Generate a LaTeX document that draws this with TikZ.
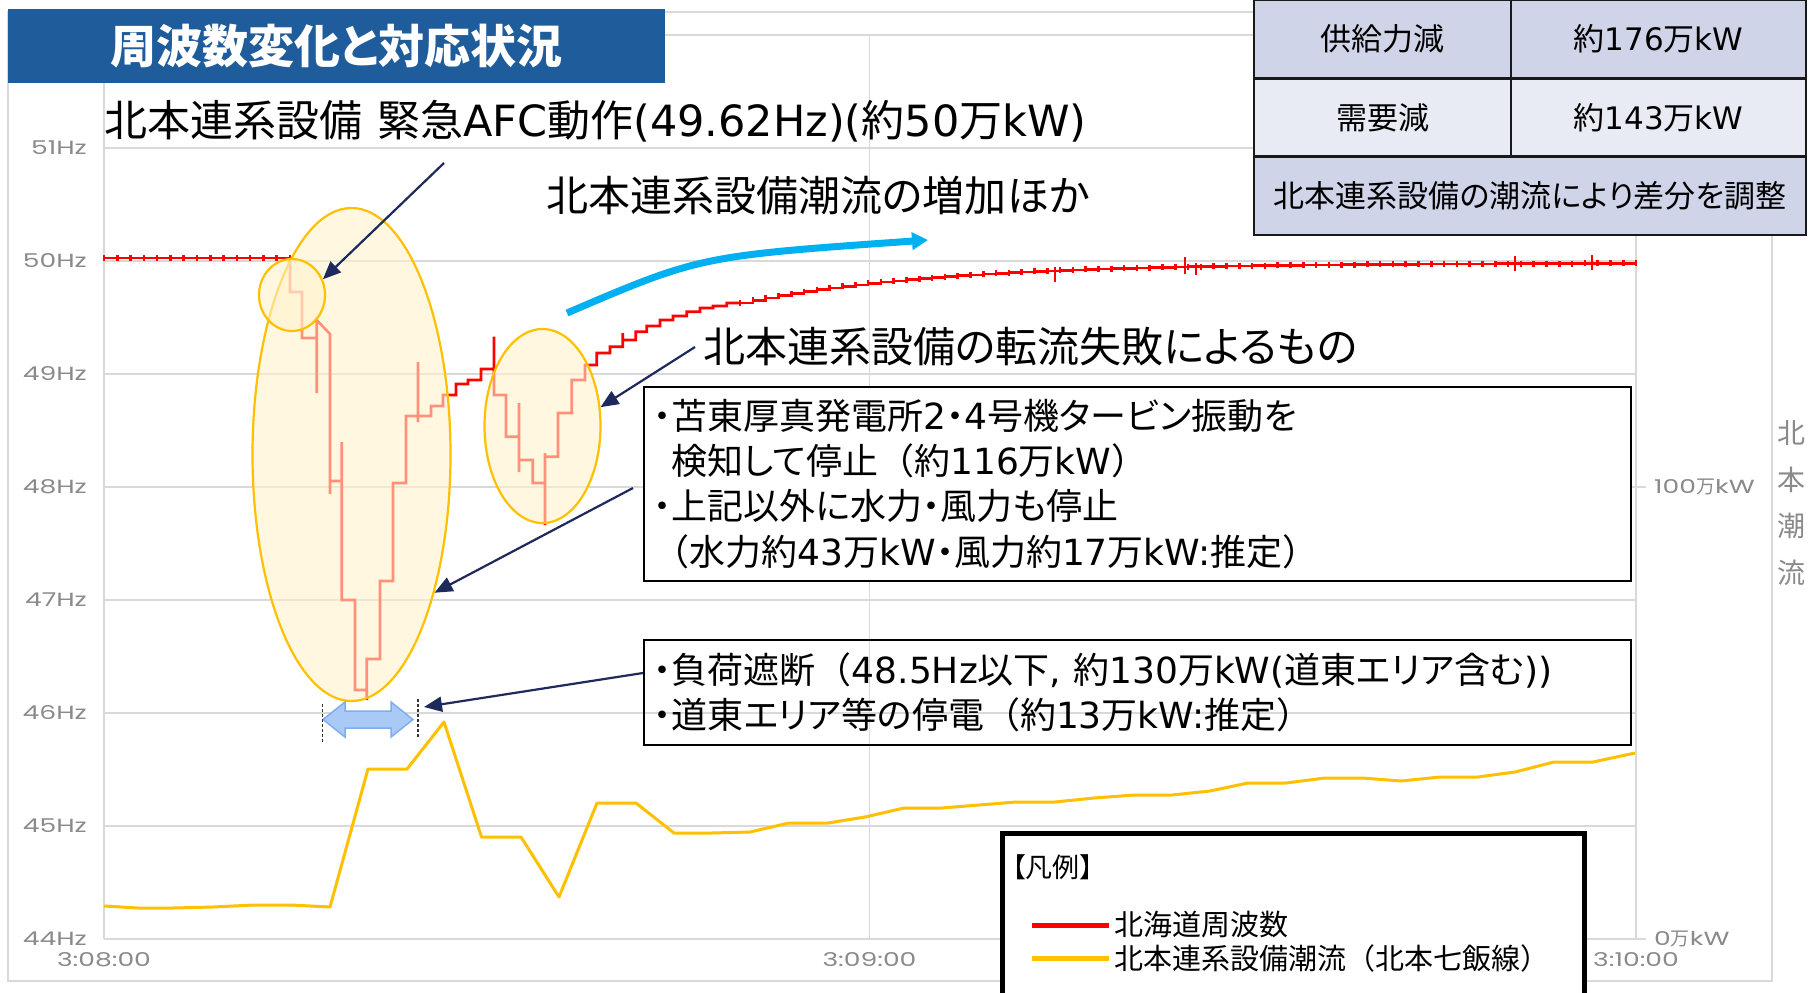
\documentclass[tikz,border=0pt]{standalone}
\usepackage{fontspec}
\setmainfont{Noto Sans CJK JP}[CharacterWidth=AlternateProportional]
\newfontfamily\fullw{Noto Sans CJK JP}
\newfontfamily\latin{DejaVu Sans}
\newfontfamily\axisfont{Poppins}[FakeStretch=1.4]
\usetikzlibrary{arrows.meta, positioning, shapes.geometric, plotmarks}
\definecolor{titleblue}{HTML}{1F5C9C}
\definecolor{gridgray}{HTML}{D9D9D9}
\definecolor{axisgray}{HTML}{8A8A8A}
\definecolor{freqred}{HTML}{FF0000}
\definecolor{flowyel}{HTML}{FFC000}
\definecolor{hilitefill}{HTML}{FFF2CC}
\definecolor{navy}{HTML}{1F2A5C}
\definecolor{risecyan}{HTML}{00B0F0}
\definecolor{tabdark}{HTML}{CFD4E8}
\definecolor{tablight}{HTML}{E8EAF4}
\definecolor{spanfill}{HTML}{A9C9F7}
\definecolor{spanedge}{HTML}{7FAEF0}
\newcommand*{\fsz}[2]{\fontsize{#1}{#2}\selectfont}
\newcommand*{\lat}[1]{{\latin#1}}
\newcommand*{\lp}{{\fullw （}}
\newcommand*{\rp}{{\fullw ）}}

\begin{document}
\begin{tikzpicture}[
      x=1pt, y=-1pt,
      grid/.style={draw=gridgray, line width=1.3pt},
      axislab/.style={text=axisgray, inner sep=0pt, font=\axisfont\fsz{19}{19}},
      freq/.style={draw=freqred, line width=2.6pt},
      flow/.style={draw=flowyel, line width=3pt, line join=round},
      hilite/.style={ellipse, draw=flowyel, line width=2.2pt, fill=hilitefill,
                     fill opacity=0.6, draw opacity=1, inner sep=0pt},
      callout/.style={draw=navy, line width=2.2pt, -{Triangle[length=18pt,width=15pt]}},
      note/.style={anchor=west, inner sep=0pt, font=\fsz{42}{42}},
      notebox/.style={draw=black, line width=1.6pt, anchor=north west, inner xsep=10pt,
                      text width=967pt, align=left, font=\fsz{36}{45.3}},
      cell/.style={draw=black!90, line width=2.6pt, inner sep=0pt, outer sep=0pt,
                   minimum height=78.3pt, font=\fsz{31}{31}}
      ]

      \useasboundingbox (0,0) rectangle (1808,993);
      \clip (0,0) rectangle (1808,993);
      \fill[white] (0,0) rectangle (1808,993);

      % chart area
      \draw[draw=gridgray, line width=1.5pt] (8,12) rectangle (1772,981);
      \foreach \f in {44,...,52}
        \draw[grid] (104,{939-(\f-44)*113}) -- (1636,{939-(\f-44)*113});
      \foreach \x in {104,869.5,1636}
        \draw[grid] (\x,35) -- (\x,939);
      \draw[grid] (1636,487) -- (1646,487);
      \draw[grid] (1636,939) -- (1646,939);
      \foreach \f in {44,...,51}
        \node[axislab, anchor=east] at (87,{939-(\f-44)*113}) {\f Hz};
      \node[axislab] (t0) at (104,960) {3:08:00};
      \node[axislab] (t1) at (869.5,960) {3:09:00};
      \node[axislab] (t2) at (1636,960) {3:10:00};
      \node[axislab, anchor=west] (p100) at (1654,487) {100{\rmfamily 万}kW};
      \node[axislab, anchor=west] (p0) at (1654,939) {0{\rmfamily 万}kW};
      \foreach \c [count=\i] in {北,本,潮,流}
        \node[anchor=west, inner sep=0pt, text=axisgray, font=\fsz{28}{28}]
          at (1777,{433+46.5*(\i-1)}) {\c};

      % flow
      \draw[flow] (104,906) -- (138,908) -- (173,908) -- (213,907) -- (254,905) -- (291,905)
        -- (330,907) -- (368,769) -- (407,769) -- (444,722) -- (481.5,837) -- (521,837)
        -- (559,897) -- (597,803) -- (636,803) -- (674,833) -- (712,833) -- (750,832)
        -- (789,823) -- (828,823) -- (865,817) -- (904,808) -- (941.5,808) -- (979,805)
        -- (1016,802) -- (1055,802) -- (1094,798) -- (1135,795) -- (1172,795) -- (1210,791)
        -- (1248,783) -- (1286,783) -- (1325,778) -- (1362,778) -- (1401,781) -- (1440,777)
        -- (1478,777) -- (1515,772) -- (1554,762) -- (1593,762) -- (1635,753);

      % frequency
      \draw[freq] plot[const plot, mark=|, mark size=3pt, domain=104:290, samples=15] (\x,258);
      \draw[freq] (290,258) -- (290,292) -- (302,292) -- (302,338) -- (316.7,338) -- (316.7,393)
        -- (316.7,320) -- (330,334) -- (330,494) -- (330,481) -- (341.7,481) -- (341.7,442)
        -- (341.7,600) -- (355,600) -- (355,690) -- (366.7,690) -- (366.7,700) -- (366.7,659)
        -- (380,659) -- (380,581) -- (393,581) -- (393,483) -- (406,483) -- (406,416)
        -- (418,416) -- (418,422) -- (418,362) -- (418,416) -- (431,416) -- (431,406)
        -- (443,406) -- (443,395) -- (456,395) -- (456,384) -- (468,384) -- (468,380)
        -- (481,380) -- (481,369) -- (494,369) -- (494,336.7) -- (494,395) -- (506,395)
        -- (506,436.7) -- (519,436.7) -- (519,403) -- (519,472) -- (519,460) -- (532.7,460)
        -- (532.7,483) -- (545,483) -- (545,525) -- (545,453) -- (545,456.7) -- (558,456.7)
        -- (558,413) -- (571.7,413) -- (571.7,380) -- (585,380) -- (585,365) -- (596.7,365)
        -- (596.7,353) -- (610,353) -- (610,346.7) -- (622.7,346.7) -- (622.7,333)
        -- (622.7,340) -- (635.7,340) -- (635.7,331.7) -- (646.7,331.7) -- (646.7,326)
        -- (660,326) -- (660,320) -- (673,320) -- (673,316) -- (686.7,316) -- (686.7,311.7)
        -- (700,311.7) -- (700,308) -- (713,308) -- (713,306) -- (726.7,306) -- (726.7,303)
        -- (740,303);
      \draw[freq] plot[const plot, mark=|, mark size=3pt, domain=740:1636, samples=71]
        (\x,{263+40*exp(-(\x-740)/190)});
      \draw[freq] (1055,267) -- (1055,282);
      \draw[freq] (1185,257) -- (1185,274);
      \draw[freq] (1196,263) -- (1196,275);
      \draw[freq] (1515,256) -- (1515,271);
      \draw[freq] (1592,255) -- (1592,270);

      % highlights
      \node[hilite, minimum width=198pt, minimum height=493pt] (drop) at (351.5,454.5) {};
      \node[hilite, minimum width=66pt, minimum height=72pt] (afc) at (292,295) {};
      \node[hilite, minimum width=116pt, minimum height=194pt] (fail) at (542.5,426) {};

      % load shedding span
      \draw[draw=spanedge, fill=spanfill, line width=1.5pt] (323,719.5) -- (345,702) -- (345,711)
        -- (391,711) -- (391,702) -- (413,719.5) -- (391,737) -- (391,728) -- (345,728)
        -- (345,737) -- cycle;
      \draw[black!80, line width=1.2pt, dash pattern=on 3pt off 2pt] (322.7,704) -- (322.7,742);
      \draw[black!80, line width=1.2pt, dash pattern=on 3pt off 2pt] (418,699) -- (418,737);

      % notes
      \node[note, font=\fsz{43}{43}] (afcnote) at (104,121)
        {北本連系設備\hspace{0.35em}緊急\lat{AFC}動作\lat{(49.62Hz)(}約\lat{50}万\lat{kW)}};
      \node[note] (flownote) at (546,196) {北本連系設備潮流の増加ほか};
      \node[note] (failnote) at (703,347) {北本連系設備の転流失敗によるもの};
      \node[notebox, fill=white, minimum height=194pt] (tripbox) at (643,386)
        {・苫東厚真発電所\lat{2}・\lat{4}号機タービン振動を\\
         \phantom{・}検知して停止\lp 約\lat{116}万\lat{kW}\rp\\
         ・上記以外に水力・風力も停止\\
         \lp 水力約\lat{43}万\lat{kW}・風力約\lat{17}万\lat{kW:}推定\rp};
      \node[notebox, minimum height=105pt] (shedbox) at (643,639)
        {・負荷遮断\lp\lat{48.5Hz}以下\lat{, }約\lat{130}万\lat{kW(}道東エリア含む\lat{))}\\
         ・道東エリア等の停電\lp 約\lat{13}万\lat{kW:}推定\rp};

      \coordinate (afcfrom) at (444,163);
      \coordinate (tripfrom) at (633,488);
      \coordinate (shedfrom) at (643,673);
      \coordinate (shedtip) at (424,707);
      \draw[callout] (afcfrom) -- (afc.27);
      \draw[callout] ([xshift=-8pt]failnote.west) -- (fail.18);
      \draw[callout] (tripfrom) -- (drop.-59);
      \draw[callout] (shedfrom) -- (shedtip);

      \coordinate (riseA) at (567,313);
      \coordinate (riseB) at (928,240);
      \draw[draw=risecyan, line width=7pt, -{Triangle[length=16pt,width=17pt]}]
        (riseA) .. controls (700,256) .. (riseB);

      % table
      \node[cell, fill=tabdark, minimum width=257pt, anchor=north west] (supply) at (1254,0) {供給力減};
      \node[cell, fill=tabdark, minimum width=295pt, right=0pt of supply] (supplyval) {約\lat{176}万\lat{kW}};
      \node[cell, fill=tablight, minimum width=257pt, below=0pt of supply] (demand) {需要減};
      \node[cell, fill=tablight, minimum width=295pt, right=0pt of demand] (demandval) {約\lat{143}万\lat{kW}};
      \node[cell, fill=tabdark, minimum width=552pt, below=0pt of demand.south west,
            anchor=north west] (adjust) {北本連系設備の潮流により差分を調整};

      % title
      \node[fill=titleblue, text=white, minimum width=657pt, minimum height=74pt, inner sep=0pt,
            font=\bfseries\fsz{46}{46}] (title) at (336.5,46) {周波数変化と対応状況};

      % legend
      \node[draw=black, line width=5pt, fill=white, minimum width=582pt, minimum height=190pt,
            anchor=north west, inner sep=0pt] (legend) at (999.5,830.5) {};
      \node[anchor=west, inner sep=0pt, font=\fsz{27}{27}] (legtitle) at (1012,867) {【凡例】};
      \coordinate (redA) at (1032,925);
      \coordinate (redB) at (1109,925);
      \coordinate (yelA) at (1032,958);
      \coordinate (yelB) at (1109,958);
      \draw[draw=freqred, line width=5pt] (redA) -- (redB);
      \draw[draw=flowyel, line width=5pt] (yelA) -- (yelB);
      \node[anchor=west, inner sep=0pt, font=\fsz{29}{29}, right=5pt of redB] (legfreq) {北海道周波数};
      \node[anchor=west, inner sep=0pt, font=\fsz{29}{29}, right=5pt of yelB] (legflow) {北本連系設備潮流\lp 北本七飯線\rp};
\end{tikzpicture}
\end{document}
